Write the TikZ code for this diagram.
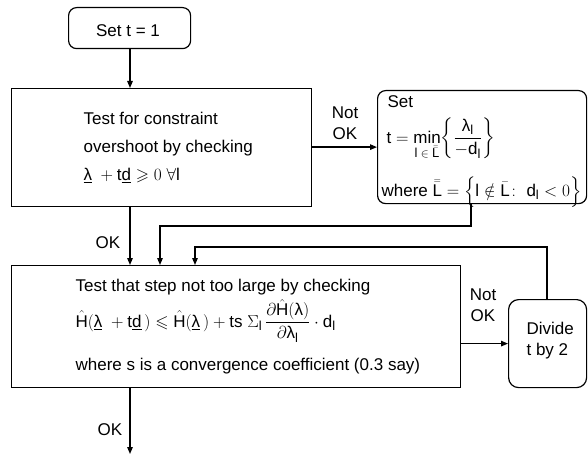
\documentclass[tikz,border=0pt]{standalone}
\usepackage{amsmath,amssymb}
\usepackage{fontspec}
\setmainfont{Liberation Sans}
\usetikzlibrary{arrows.meta}
\newcommand{\lam}{\text{λ}}
\newcommand{\rv}[1]{\mathrm{#1}}
\newcommand{\sbx}[1]{\mbox{\fontsize{13}{13}\selectfont$#1$}}
\begin{document}
\begin{tikzpicture}[x=1pt,y=-1pt,line width=1.2pt,
  box/.style={draw,rectangle,anchor=north west,inner sep=0pt},
  rbox/.style={box,rounded corners=8pt},
  txt/.style={anchor=base west,inner sep=0pt,font=\fontsize{17}{20}\selectfont},
  lbl/.style={anchor=center,inner sep=0pt,align=center,font=\fontsize{17}{21}\selectfont},
  arr/.style={-{Triangle[length=7pt,width=5.5pt]}}]
\useasboundingbox (0,0) rectangle (588,457);
% boxes
\node[rbox,minimum width=122pt,minimum height=41pt] (st) at (68,7) {};
\node[box,minimum width=300pt,minimum height=118pt] (b1) at (11,88) {};
\node[rbox,minimum width=209pt,minimum height=113pt] (sb) at (377,90) {};
\node[box,minimum width=449pt,minimum height=122pt] (b2) at (11,265) {};
\node[rbox,rounded corners=10pt,minimum width=78pt,minimum height=88pt] (dv) at (508,299) {};
% texts
\node[lbl] (t0) at (128,31) {Set t = 1};
\node[txt] (a1) at (83,125) {Test for constraint};
\node[txt] (a2) at (83,153) {overshoot by checking};
\node[txt] (a3) at (83,180) {$\underline{\lam}\ + \rv{t}\underline{\rv{d}} \geqslant 0\ \forall\rv{l}$};
\node[txt] (s1) at (387,108) {Set};
\node[txt] (s2) at (386,143) {$\rv{t} = \min\limits_{\sbx{\rv{l}\in\bar{\bar{\rv{L}}}}}\!\left\{\dfrac{\lam_{\sbx{\rv{l}}}}{-\rv{d}_{\sbx{\rv{l}}}}\right\}$};
\node[txt] (s3) at (381,196) {where $\bar{\bar{\rv{L}}} = \Bigl\{\rv{l} \notin \bar{\rv{L}}\colon\ \rv{d}_{\sbx{\rv{l}}} < 0\Bigr\}$};
\node[txt] (c1) at (75,291) {Test that step not too large by checking};
\node[txt] (c2) at (75,327) {$\hat{\rv{H}}(\underline{\lam}\ + \rv{t}\underline{\rv{d}}\,) \leqslant \hat{\rv{H}}(\underline{\lam}\,) + \rv{ts}\ \Sigma_{\sbx{\rv{l}}}\,\dfrac{\partial\hat{\rv{H}}(\lam)}{\partial\lam_{\sbx{\rv{l}}}}\cdot\rv{d}_{\sbx{\rv{l}}}$};
\node[txt] (c3) at (75,370) {where s is a convergence coefficient (0.3 say)};
\node[lbl,align=left,anchor=west] (d1) at (526,341) {Divide\\t by 2};
% labels
\node[lbl] (n1) at (345,123) {Not\\OK};
\node[lbl] (n2) at (483,305) {Not\\OK};
\node[lbl] (k1) at (108,243) {OK};
\node[lbl] (k2) at (110,430) {OK};
% coordinates
\coordinate (fa) at (471,226);
\coordinate (fb) at (160,226);
\coordinate (ga) at (547,247);
\coordinate (gb) at (195,247);
\coordinate (en) at (130,454);
\coordinate (ax) at (130,0);
% connectors
\draw[arr] (st.south -| ax) -- (b1.north -| ax);
\draw[arr] (b1.east |- sb.west) -- (sb.west);
\draw[arr] (b1.south -| ax) -- (b2.north -| ax);
\draw[arr] (sb.south -| fa) -- (fa) -- (fb) -- (fb |- b2.north);
\draw[arr] (dv.north -| ga) -- (ga) -- (gb) -- (gb |- b2.north);
\draw[arr] (b2.east |- dv.west) -- (dv.west);
\draw[arr] (b2.south -| ax) -- (en);
\end{tikzpicture}
\end{document}
